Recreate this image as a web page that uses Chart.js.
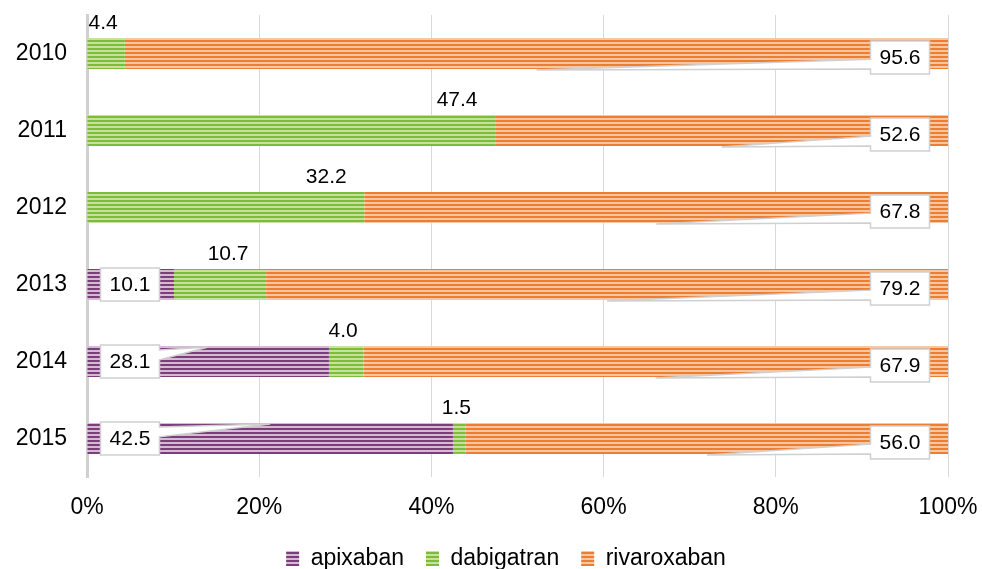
<!DOCTYPE html>
<html>
<head>
<meta charset="utf-8">
<script src="https://cdn.jsdelivr.net/npm/chart.js@4/dist/chart.umd.min.js"></script>
<style>
  html, body { margin: 0; padding: 0; background: #ffffff; }
  #wrap { width: 982px; height: 569px; position: relative; }
</style>
</head>
<body>
<div id="wrap"><canvas id="c" width="982" height="569"></canvas></div>
<script>
// Share of each anticoagulant per year (percent)
const years = ['2010', '2011', '2012', '2013', '2014', '2015'];
const apixaban = [0, 0, 0, 10.1, 28.1, 42.5];
const dabigatran = [4.4, 47.4, 32.2, 10.7, 4.0, 1.5];
const rivaroxaban = [95.6, 52.6, 67.8, 79.2, 67.9, 56.0];
const xTicks = [0, 20, 40, 60, 80, 100];

const FONT = 'Liberation Sans, Arial, sans-serif';

// Horizontal stripe fill: alternating dark and pale rows
function stripes(dark, light) {
  const p = document.createElement('canvas');
  p.width = 4; p.height = 4;
  const g = p.getContext('2d');
  g.fillStyle = light; g.fillRect(0, 0, 4, 4);
  g.fillStyle = dark; g.fillRect(0, 0, 4, 2);
  return g.createPattern(p, 'repeat');
}

const fillApix = stripes('#7a3f79', '#d6b9d4');
const fillDabi = stripes('#7dbb3b', '#c6e29e');
const fillRiva = stripes('#ed7d31', '#f7c7a3');

// Callout box with a thin wedge pointing at a spot on the bar
function callout(ctx, text, cx, cy, w, h, tip, side) {
  const l = cx - w / 2, r = cx + w / 2, t = cy - h / 2, b = cy + h / 2;
  const inside = tip && tip.x >= l && tip.x <= r;
  ctx.beginPath();
  ctx.moveTo(l, t);
  ctx.lineTo(r, t);
  if (tip && !inside && side === 'right') {
    ctx.lineTo(r, t + h * 0.15);
    ctx.lineTo(tip.x, tip.y);
    ctx.lineTo(r, t + h * 0.45);
  }
  ctx.lineTo(r, b);
  ctx.lineTo(l, b);
  if (tip && !inside && side === 'left') {
    ctx.lineTo(l, t + h * 0.85);
    ctx.lineTo(tip.x, tip.y);
    ctx.lineTo(l, t + h * 0.55);
  }
  ctx.closePath();
  ctx.fillStyle = '#ffffff';
  ctx.fill();
  ctx.strokeStyle = '#d0d0d0';
  ctx.lineWidth = 1.5;
  ctx.stroke();
  ctx.fillStyle = '#000000';
  ctx.textAlign = 'center';
  ctx.textBaseline = 'middle';
  ctx.fillText(text, cx, cy + 1);
}

const valueLabels = {
  id: 'valueLabels',
  // centre the legend row under the plot rather than the whole canvas
  afterLayout(chart) {
    const lg = chart.legend;
    if (lg) { lg.left += 32; lg.right += 32; }
  },
  afterDatasetsDraw(chart) {
    const ctx = chart.ctx;
    const xs = chart.scales.x;
    ctx.save();
    ctx.font = '21px ' + FONT;

    // dabigatran: plain numbers above the green segment
    chart.getDatasetMeta(1).data.forEach((el, i) => {
      const p = el.getProps(['x', 'y', 'base', 'height'], true);
      const w = p.x - p.base;
      const x = p.x - Math.min(w / 2, 35) - 3;
      ctx.fillStyle = '#000000';
      ctx.textAlign = 'center';
      ctx.textBaseline = 'middle';
      ctx.fillText(dabigatran[i].toFixed(1), x, p.y - p.height / 2 - 15);
    });

    // apixaban: boxes near the left end, wedge to the segment's top edge
    chart.getDatasetMeta(0).data.forEach((el, i) => {
      if (!apixaban[i]) return;
      const p = el.getProps(['x', 'y', 'base', 'height'], true);
      const tip = { x: (p.x + p.base) / 2, y: p.y - p.height / 2 + 1 };
      callout(ctx, apixaban[i].toFixed(1), xs.left + 43, p.y, 59, 33, tip, 'right');
    });

    // rivaroxaban: boxes near the right end, wedge to the segment's bottom edge
    chart.getDatasetMeta(2).data.forEach((el, i) => {
      const p = el.getProps(['x', 'y', 'base', 'height'], true);
      const tip = { x: (p.x + p.base) / 2, y: p.y + p.height / 2 + 1 };
      callout(ctx, rivaroxaban[i].toFixed(1), xs.right - 48, p.y + 4, 59, 33, tip, 'left');
    });
    ctx.restore();
  }
};

Chart.defaults.font.family = FONT;
Chart.defaults.color = '#000000';

new Chart(document.getElementById('c'), {
  type: 'bar',
  data: {
    labels: years,
    datasets: [
      { label: 'apixaban', data: apixaban, backgroundColor: fillApix, borderWidth: 0 },
      { label: 'dabigatran', data: dabigatran, backgroundColor: fillDabi, borderWidth: 0 },
      { label: 'rivaroxaban', data: rivaroxaban, backgroundColor: fillRiva, borderWidth: 0 }
    ]
  },
  options: {
    indexAxis: 'y',
    responsive: false,
    animation: false,
    devicePixelRatio: 1,
    layout: { padding: { top: 15, right: 34, left: 0, bottom: 0 } },
    datasets: { bar: { categoryPercentage: 1, barPercentage: 0.4 } },
    scales: {
      x: {
        stacked: true,
        min: 0,
        max: 100,
        afterBuildTicks(scale) { scale.ticks = xTicks.map(v => ({ value: v })); },
        afterFit(scale) {
          scale.height = 48;
          scale.paddingLeft = 0;
          scale.paddingRight = 0;
        },
        ticks: {
          padding: 17,
          font: { size: 23 },
          color: '#000000',
          callback: v => v + '%'
        },
        grid: { color: '#d9d9d9', lineWidth: 1, drawTicks: false },
        border: { display: false }
      },
      y: {
        stacked: true,
        afterFit(scale) {
          scale.width = 87;
          scale.paddingTop = 0;
          scale.paddingBottom = 0;
        },
        ticks: { padding: 20, font: { size: 23 }, color: '#000000' },
        grid: { display: false, drawTicks: false },
        border: { display: true, color: '#d0d0d0', width: 3 }
      }
    },
    plugins: {
      legend: {
        position: 'bottom',
        maxHeight: 44,
        labels: {
          boxWidth: 13,
          boxHeight: 15,
          padding: 22,
          font: { size: 23 },
          color: '#000000'
        }
      },
      tooltip: { enabled: false }
    }
  },
  plugins: [valueLabels]
});
</script>
</body>
</html>
